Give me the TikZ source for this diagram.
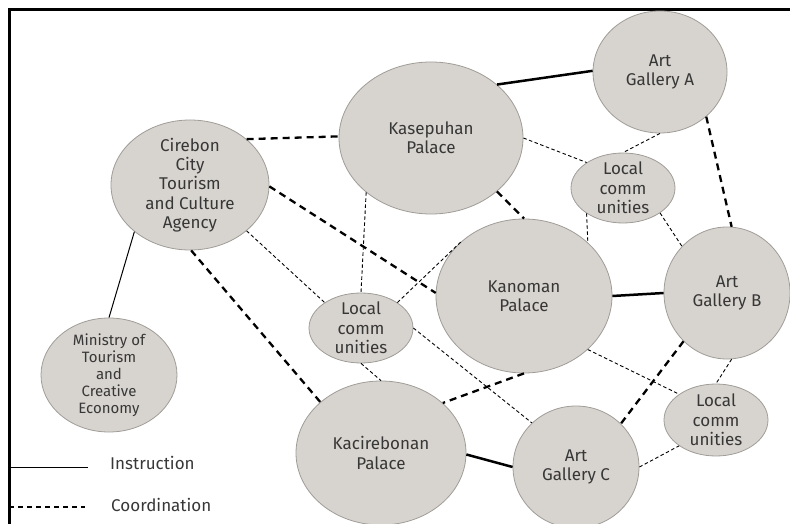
\documentclass[tikz,border=0pt]{standalone}
\usepackage{fontspec}
\setmainfont{Fira Sans}
\usetikzlibrary{shapes.geometric}
\definecolor{sitefill}{RGB}{215,211,206}
\definecolor{siteline}{RGB}{160,156,152}
\definecolor{ink}{RGB}{55,55,55}

\begin{document}
\begin{tikzpicture}[x=1pt,y=-1pt,
    site/.style 2 args={ellipse, draw=siteline, fill=sitefill, line width=.8pt,
        minimum width=#1, minimum height=#2, inner sep=0pt},
    txt/.style={text=ink, font=\fontsize{17}{19.3}\selectfont, align=center, inner sep=0pt},
    small/.style={text=ink, font=\fontsize{15}{16.9}\selectfont, align=center, inner sep=0pt},
    tie/.style={line width=2.5pt},
    instr/.style={line width=1pt},
    coord/.style={line width=2.3pt, dash pattern=on 7pt off 5pt},
    weak/.style={line width=.9pt, dash pattern=on 3.5pt off 2.5pt},
    legdash/.style={line width=1.3pt, dash pattern=on 5pt off 4pt}]
    \clip (0,0) rectangle (790,524);
    \useasboundingbox (0,0) rectangle (790,524);
    \draw [line width=2.5pt] (9.5,524) |- (790,9.5);

    \node [site={158}{130}, label={[txt]center:Cirebon\\City\\Tourism\\and Culture\\Agency}] (agency) at (190,185) {};
    \node [site={136}{114}, label={[small]center:Ministry of\\Tourism\\and\\Creative\\Economy}] (ministry) at (109,375) {};
    \node [site={184}{152}, label={[txt]center:Kasepuhan\\Palace}] (kasepuhan) at (431,138) {};
    \node [site={176}{154}, label={[txt]center:Kanoman\\Palace}] (kanoman) at (524,296) {};
    \node [site={170}{144}, label={[txt]center:Kacirebonan\\Palace}] (kacirebonan) at (381,453) {};
    \node [site={134}{122}, label={[txt]center:Art\\Gallery A}] (galA) at (660,72) {};
    \node [site={126}{132}, label={[txt]center:Art\\Gallery B}] (galB) at (727,293) {};
    \node [site={126}{122}, label={[txt]center:Art\\Gallery C}] (galC) at (576,467) {};
    \node [site={104}{70}, label={[txt]center:Local\\comm\\unities}] (localT) at (623,188) {};
    \node [site={104}{70}, label={[txt]center:Local\\comm\\unities}] (localM) at (361,328) {};
    \node [site={104}{72}, label={[txt]center:Local\\comm\\unities}] (localB) at (716,420) {};

    \draw [instr] (agency.-140) -- (ministry.90);
    \draw [tie] (kasepuhan.39) -- (galA.179);
    \draw [tie] (kanoman.0) -- (galB.180);
    \draw [tie] (kacirebonan.-1) -- (galC.180);

    \draw [coord] (agency.39) -- (kasepuhan.179);
    \draw [coord] (agency.-1.5) -- (kanoman.178);
    \draw [coord] (agency.-89) -- (kacirebonan.140);
    \draw [coord] (kasepuhan.-39) -- (kanoman.90);
    \draw [coord] (kanoman.-90) -- (kacirebonan.39);
    \draw [coord] (galA.-44) -- (galB.86);
    \draw [coord] (galB.-132) -- (galC.44);

    \draw [weak] (agency.-39) -- (localM.145);
    \draw [weak] (kasepuhan.-140) -- (localM.90);
    \draw [weak] (localM.35) -- (kanoman.138);
    \draw [weak] (localM.-90) -- (kacirebonan.90);
    \draw [weak] (localM.0) -- (galC.135);
    \draw [weak] (kasepuhan.0) -- (localT.145);
    \draw [weak] (galA.-90) -- (localT.90);
    \draw [weak] (localT.-145) -- (kanoman.40);
    \draw [weak] (localT.-34) -- (galB.134);
    \draw [weak] (kanoman.-40) -- (localB.145);
    \draw [weak] (galB.-86) -- (localB.90);
    \draw [weak] (galC.0) -- (localB.-145);

    \coordinate (instrL) at (9,467);
    \coordinate (instrR) at (88,467);
    \coordinate (coordL) at (9,507);
    \coordinate (coordR) at (85,507);
    \draw [instr] (instrL) -- (instrR);
    \draw [legdash] (coordL) -- (coordR);
    \node [txt, anchor=west] (instrtext) at (110,463) {Instruction};
    \node [txt, anchor=west] (coordtext) at (111,505) {Coordination};
\end{tikzpicture}
\end{document}
